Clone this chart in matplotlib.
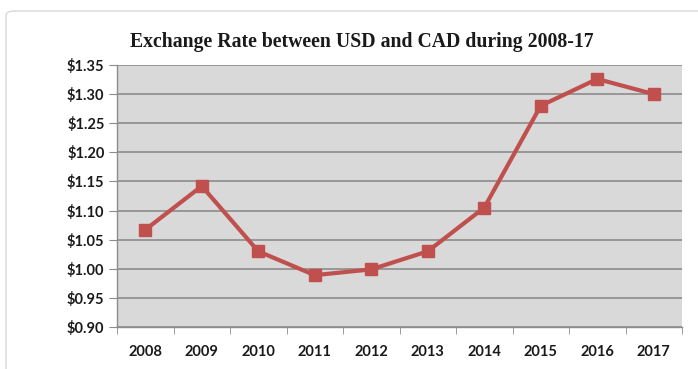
import matplotlib.pyplot as plt
from matplotlib.patches import FancyBboxPatch
import numpy as np

years = ["2008", "2009", "2010", "2011", "2012", "2013", "2014", "2015", "2016", "2017"]
rates = [1.067, 1.142, 1.030, 0.989, 0.999, 1.030, 1.105, 1.280, 1.326, 1.300]
yticks = [0.90, 0.95, 1.00, 1.05, 1.10, 1.15, 1.20, 1.25, 1.30, 1.35]

fig = plt.figure(figsize=(6.98, 3.69), dpi=100)
fig.patch.set_facecolor("white")

# card border
card = FancyBboxPatch((6 / 698, -0.1), 1.2, 1.1 - 11 / 369,
                      boxstyle="round,pad=0,rounding_size=0.012",
                      transform=fig.transFigure, facecolor="white",
                      edgecolor="#d8d8d8", linewidth=1, zorder=-10)
fig.patches.append(card)

ax = fig.add_axes([117 / 698, 1 - 327 / 369, 565 / 698, 262 / 369])
ax.set_facecolor("#d9d9d9")

x = np.arange(len(years))
ax.plot(x, rates, color="#c0504d", linewidth=3, marker="s", markersize=8, zorder=3)

ax.set_xlim(-0.5, len(years) - 0.5)
ax.set_ylim(0.90, 1.35)
ax.set_yticks(yticks)
ax.set_yticklabels(["${:.2f}".format(v) for v in yticks])
ax.yaxis.grid(True, color="#8c8c8c", linewidth=1.2)
ax.set_axisbelow(True)

ax.set_xticks(x)
ax.set_xticklabels(years)
ax.set_xticks(np.arange(-0.5, len(years)), minor=True)
ax.tick_params(axis="x", which="major", length=0, pad=13)
ax.tick_params(axis="x", which="minor", length=5, color="#8c8c8c")
ax.tick_params(axis="y", length=6, color="#8c8c8c", pad=3)

for lab in ax.get_xticklabels() + ax.get_yticklabels():
    lab.set_fontfamily("Lato")
    lab.set_fontweight("bold")
    lab.set_fontsize(10.5)
    lab.set_color("#1a1a1a")

for s in ["top", "right"]:
    ax.spines[s].set_visible(False)
for s in ["left", "bottom"]:
    ax.spines[s].set_color("#8c8c8c")
    ax.spines[s].set_linewidth(1)

fig.text(362 / 698, 1 - 42 / 369, "Exchange Rate between USD and CAD during 2008-17",
         ha="center", va="center", fontfamily="Liberation Serif",
         fontweight="bold", fontsize=14.2, color="#1a1a1a")

fig.savefig("out.png", dpi=100)
